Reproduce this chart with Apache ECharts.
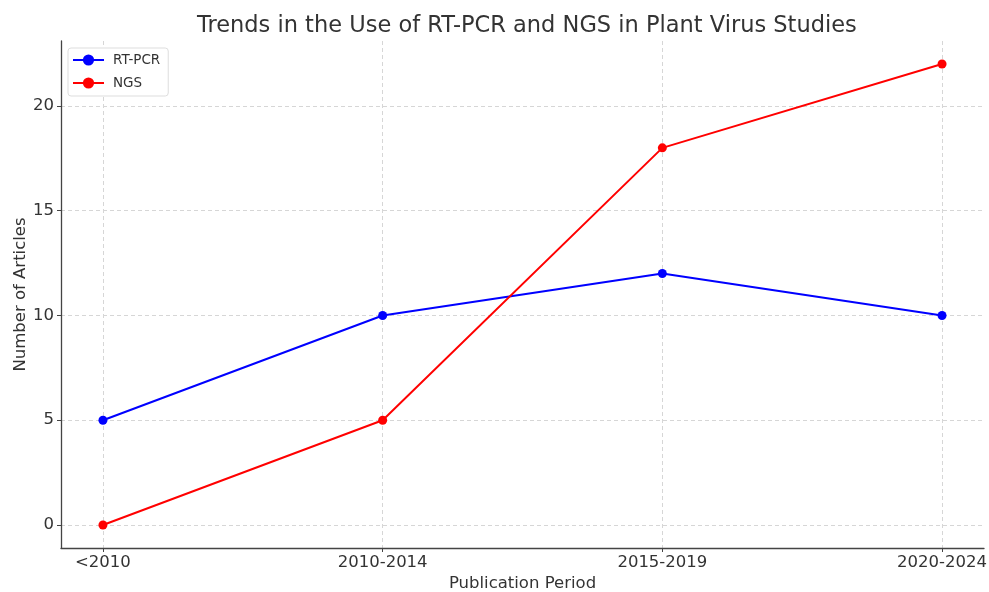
<!DOCTYPE html>
<html><head><meta charset="utf-8">
<script src="https://cdn.jsdelivr.net/npm/echarts@6/dist/echarts.min.js"></script>
<style>html,body{margin:0;padding:0;background:#fff}#c{width:989px;height:592px}</style>
</head><body><div id="c"></div>
<script>
const categories = ['<2010', '2010-2014', '2015-2019', '2020-2024'];
const rtpcr = [5, 10, 12, 10];
const ngs = [0, 5, 18, 22];
const yTicks = [0, 5, 10, 15, 20];

const font = 'DejaVu Sans';
const chart = echarts.init(document.getElementById('c'));
const toPts = arr => arr.map((v, i) => [i, v]);
const xIdx = categories.map((c, i) => i);
chart.setOption({
  animation: false,
  title: {text: 'Trends in the Use of RT-PCR and NGS in Plant Virus Studies', left: 192, top: 10,
    textStyle: {fontFamily: font, fontSize: 22.5, fontWeight: 'normal', color: '#333'}},
  legend: {left: 68, top: 48, orient: 'vertical', itemGap: 9, itemWidth: 31, itemHeight: 14,
    padding: [5, 8, 6, 4],
    borderColor: '#ddd', borderWidth: 1, borderRadius: 3, backgroundColor: '#fff',
    textStyle: {fontFamily: font, fontSize: 13.5, color: '#333', padding: [0, 0, 0, 4]},
    data: ['RT-PCR', 'NGS']},
  grid: {left: 61, right: 5, top: 41, bottom: 44, outerBoundsMode: 'none', containLabel: false},
  xAxis: {type: 'value', min: -0.15, max: 3.15,
    name: 'Publication Period', nameLocation: 'middle', nameGap: 27, nameMoveOverlap: false,
    nameTextStyle: {fontFamily: font, fontSize: 16.5, color: '#333'},
    axisLine: {show: true, onZero: false, lineStyle: {color: '#444', width: 1.3}},
    axisTick: {show: true, customValues: xIdx, length: 4, lineStyle: {color: '#444'}},
    axisLabel: {customValues: xIdx, formatter: v => categories[Math.round(v)] || '', margin: 6,
      fontFamily: font, fontSize: 16.5, color: '#333'},
    splitLine: {show: true, lineStyle: {color: '#d6d6d6', type: [4, 3]}}},
  yAxis: {type: 'value', min: -1.1, max: 23.1,
    name: 'Number of Articles', nameLocation: 'middle', nameGap: 32, nameMoveOverlap: false,
    nameTextStyle: {fontFamily: font, fontSize: 16.5, color: '#333'},
    axisLine: {show: true, onZero: false, lineStyle: {color: '#444', width: 1.3}},
    axisTick: {show: true, customValues: yTicks, length: 4, lineStyle: {color: '#444'}},
    axisLabel: {customValues: yTicks, margin: 7, fontFamily: font, fontSize: 16.5, color: '#333'},
    splitLine: {show: true, lineStyle: {color: '#d6d6d6', type: [4, 3]}}},
  series: [
    {name: 'RT-PCR', type: 'line', data: toPts(rtpcr), color: '#0000ff', symbol: 'circle', symbolSize: 9,
      lineStyle: {width: 2}},
    {name: 'NGS', type: 'line', data: toPts(ngs), color: '#ff0000', symbol: 'circle', symbolSize: 9,
      lineStyle: {width: 2}}
  ]
});
</script></body></html>
